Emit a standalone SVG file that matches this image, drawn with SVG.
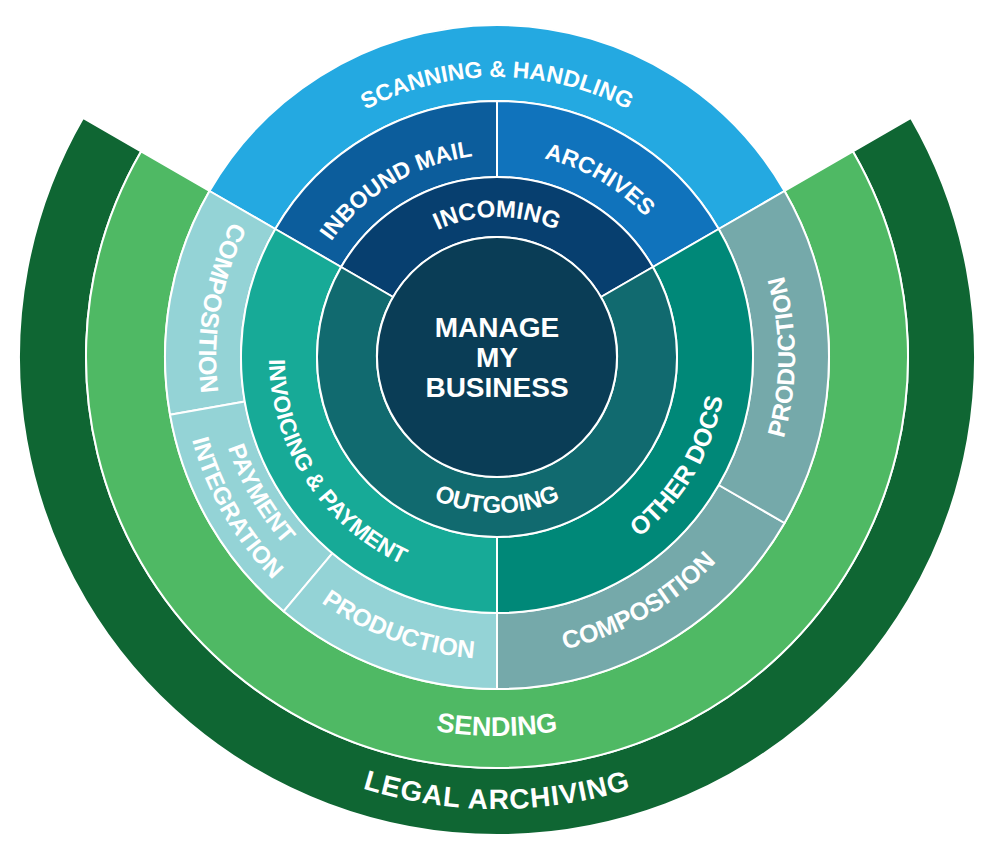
<svg xmlns="http://www.w3.org/2000/svg" width="1000" height="853" viewBox="0 0 1000 853">
<defs>
<style>
.seg{stroke:#ffffff;stroke-width:2;stroke-linejoin:round}
.lbl{font-family:"Liberation Sans",Arial,Helvetica,sans-serif;font-weight:bold;fill:#ffffff;text-anchor:middle}
</style>
<path id="p-scan" d="M 221.25 308.38 A 280 280 0 0 1 772.75 308.38"/>
<path id="p-inbound" d="M 304.68 430.82 A 207 207 0 0 1 652.47 221.85"/>
<path id="p-archives" d="M 340.73 225.87 A 204 204 0 0 1 688.70 426.77"/>
<path id="p-incoming" d="M 359.13 332.69 A 140 140 0 0 1 634.87 332.69"/>
<path id="p-outgoing" d="M 343.37 384.09 A 156 156 0 0 0 650.63 384.09"/>
<path id="p-invoicing" d="M 341.50 190.25 A 228 228 0 0 0 586.09 566.88"/>
<path id="p-compL" d="M 497 59 A 298 298 0 0 0 395.08 637.03"/>
<path id="p-pay1" d="M 314.45 139.44 A 284 284 0 0 0 594.13 623.87"/>
<path id="p-pay2" d="M 293.88 114.93 A 316 316 0 0 0 605.08 653.94"/>
<path id="p-prodL" d="M 199.59 304.56 A 302 302 0 0 0 758.54 508"/>
<path id="p-other" d="M 414.75 571.26 A 229.5 229.5 0 0 0 647.57 183.79"/>
<path id="p-prodR" d="M 548.75 650.47 A 298 298 0 0 0 548.75 63.53"/>
<path id="p-compR" d="M 267.19 549.84 A 300 300 0 0 0 778.91 254.39"/>
<path id="p-sending" d="M 123.76 422.81 A 379 379 0 0 0 870.24 422.81"/>
<path id="p-legal" d="M 51.87 435.49 A 452 452 0 0 0 942.13 435.49"/>
</defs>

<g id="legal-archiving">
<path class="seg" fill="#0f6633" d="M 83.04 118 A 478 478 0 1 0 910.96 118 L 852.94 151.5 A 411 411 0 1 1 141.06 151.5 Z"/>
<text class="lbl" font-size="28" letter-spacing="1"><textPath href="#p-legal" startOffset="50%">LEGAL ARCHIVING</textPath></text>
</g>

<g id="sending">
<path class="seg" fill="#4fb964" d="M 141.06 151.5 A 411 411 0 1 0 852.94 151.5 L 784.52 191 A 332 332 0 1 1 209.48 191 Z"/>
<text class="lbl" font-size="27"><textPath href="#p-sending" startOffset="50%">SENDING</textPath></text>
</g>

<g id="scanning-handling">
<path class="seg" fill="#24a9e1" d="M 784.52 191 A 332 332 0 0 0 209.48 191 L 275.30 229 A 256 256 0 0 1 718.70 229 Z"/>
<text class="lbl" font-size="23"><textPath href="#p-scan" startOffset="50%">SCANNING &amp; HANDLING</textPath></text>
</g>

<g id="composition-left">
<path class="seg" fill="#94d3d6" d="M 209.48 191 A 332 332 0 0 0 170.04 414.65 L 244.89 401.45 A 256 256 0 0 1 275.30 229 Z"/>
<text class="lbl" font-size="25"><textPath href="#p-compL" startOffset="50%">COMPOSITION</textPath></text>
</g>

<g id="payment-integration">
<path class="seg" fill="#94d3d6" d="M 170.04 414.65 A 332 332 0 0 0 283.59 611.33 L 332.45 553.11 A 256 256 0 0 1 244.89 401.45 Z"/>
<text class="lbl" font-size="24"><textPath href="#p-pay1" startOffset="50%">PAYMENT</textPath></text>
<text class="lbl" font-size="24"><textPath href="#p-pay2" startOffset="50%">INTEGRATION</textPath></text>
</g>

<g id="production-left">
<path class="seg" fill="#94d3d6" d="M 283.59 611.33 A 332 332 0 0 0 497 689 L 497 613 A 256 256 0 0 1 332.45 553.11 Z"/>
<text class="lbl" font-size="24.5"><textPath href="#p-prodL" startOffset="50%">PRODUCTION</textPath></text>
</g>

<g id="composition-right">
<path class="seg" fill="#75a9aa" d="M 497 689 A 332 332 0 0 0 784.52 523 L 718.70 485 A 256 256 0 0 1 497 613 Z"/>
<text class="lbl" font-size="25"><textPath href="#p-compR" startOffset="50%">COMPOSITION</textPath></text>
</g>

<g id="production-right">
<path class="seg" fill="#75a9aa" d="M 784.52 523 A 332 332 0 0 0 784.52 191 L 718.70 229 A 256 256 0 0 1 718.70 485 Z"/>
<text class="lbl" font-size="24.5"><textPath href="#p-prodR" startOffset="50%">PRODUCTION</textPath></text>
</g>

<g id="inbound-mail">
<path class="seg" fill="#0c5d9c" d="M 497 101 A 256 256 0 0 0 275.30 229 L 341.12 267 A 180 180 0 0 1 497 177 Z"/>
<text class="lbl" font-size="23"><textPath href="#p-inbound" startOffset="50%">INBOUND MAIL</textPath></text>
</g>

<g id="archives">
<path class="seg" fill="#1073bc" d="M 718.70 229 A 256 256 0 0 0 497 101 L 497 177 A 180 180 0 0 1 652.88 267 Z"/>
<text class="lbl" font-size="23"><textPath href="#p-archives" startOffset="50%">ARCHIVES</textPath></text>
</g>

<g id="invoicing-payment">
<path class="seg" fill="#17aa97" d="M 275.30 229 A 256 256 0 0 0 497 613 L 497 537 A 180 180 0 0 1 341.12 267 Z"/>
<text class="lbl" font-size="23"><textPath href="#p-invoicing" startOffset="50%">INVOICING &amp; PAYMENT</textPath></text>
</g>

<g id="other-docs">
<path class="seg" fill="#008878" d="M 497 613 A 256 256 0 0 0 718.70 229 L 652.88 267 A 180 180 0 0 1 497 537 Z"/>
<text class="lbl" font-size="25"><textPath href="#p-other" startOffset="50%">OTHER DOCS</textPath></text>
</g>

<g id="incoming">
<path class="seg" fill="#073f6f" d="M 652.88 267 A 180 180 0 0 0 341.12 267 L 393.08 297 A 120 120 0 0 1 600.92 297 Z"/>
<text class="lbl" font-size="24"><textPath href="#p-incoming" startOffset="50%">INCOMING</textPath></text>
</g>

<g id="outgoing">
<path class="seg" fill="#116a6f" d="M 341.12 267 A 180 180 0 1 0 652.88 267 L 600.92 297 A 120 120 0 1 1 393.08 297 Z"/>
<text class="lbl" font-size="24"><textPath href="#p-outgoing" startOffset="50%">OUTGOING</textPath></text>
</g>

<g id="manage-my-business">
<circle class="seg" cx="497" cy="357" r="120" fill="#0a3d56"/>
<text class="lbl" font-size="28" x="497" y="337">MANAGE</text>
<text class="lbl" font-size="28" x="497" y="367">MY</text>
<text class="lbl" font-size="28" x="497" y="397">BUSINESS</text>
</g>
</svg>
